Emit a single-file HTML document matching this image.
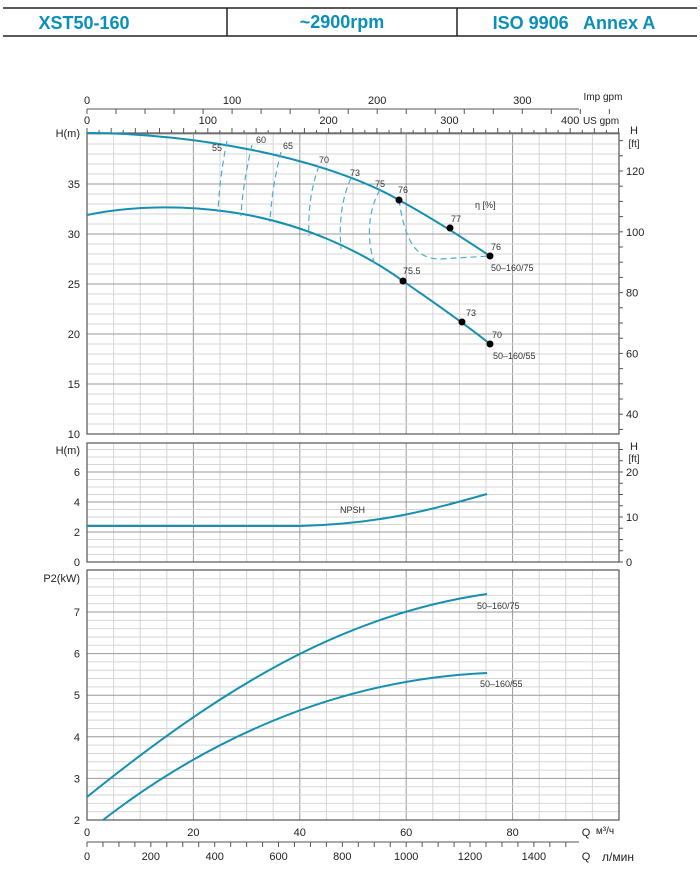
<!DOCTYPE html><html><head><meta charset="utf-8"><style>
body{margin:0;background:#fff;width:700px;height:877px;overflow:hidden;font-family:"Liberation Sans",sans-serif}
</style></head><body>
<svg id="s" width="700" height="877" xmlns="http://www.w3.org/2000/svg" font-family="Liberation Sans, DejaVu Sans, sans-serif">
<line x1="3" y1="8" x2="697" y2="8" stroke="#222" stroke-width="1.5"/>
<line x1="3" y1="36" x2="697" y2="36" stroke="#222" stroke-width="1.5"/>
<line x1="227" y1="8" x2="227" y2="36" stroke="#222" stroke-width="1.5"/>
<line x1="457" y1="8" x2="457" y2="36" stroke="#222" stroke-width="1.5"/>
<g fill="#0a8fb8" font-weight="bold" font-size="18" text-anchor="middle">
<text x="84" y="29">XST50-160</text><text x="342" y="28">~2900rpm</text><text x="574" y="29">ISO 9906&#160;&#160; Annex A</text></g>
<g id="grid"></g>
<g fill="none" stroke="#1590b0" stroke-width="2">
<path d="M87,133 C200,133 330,160 399,200 C430,217 460,236 490,256"/>
<path d="M87,215 C130,206 180,205 230,212 C300,222 360,250 403,281 C430,300 460,320 490,344"/>
<path d="M87,526 L300,526 C380,524 430,510 487,494"/>
<path d="M87,797 C220,690 340,615 487,594"/>
<path d="M103,820 C200,745 330,680 487,673"/>
</g>
<g fill="none" stroke="#4aaed0" stroke-width="1.2" stroke-dasharray="6,4">
<path d="M227,141 C222,165 219,190 218,212"/>
<path d="M252,145 C246,170 242,195 241,216"/>
<path d="M281,152 C275,175 271,200 270,222"/>
<path d="M319,166 C310,190 308,215 309,236"/>
<path d="M351,178 C341,200 339,225 341,249"/>
<path d="M380,190 C368,210 366,240 375,265"/>
<path d="M399,200 C405,240 415,259 440,259 L490,256"/>
</g>
<g fill="#000"><circle cx="399" cy="200" r="3.5"/><circle cx="450" cy="228" r="3.5"/><circle cx="490" cy="256" r="3.5"/><circle cx="403" cy="281" r="3.5"/><circle cx="462" cy="322" r="3.5"/><circle cx="490" cy="344" r="3.5"/></g>
<g font-size="9" fill="#333">
<text x="212" y="151">55</text><text x="256" y="143">60</text><text x="283" y="149">65</text><text x="319" y="163">70</text><text x="350" y="176">73</text><text x="375" y="187">75</text><text x="398" y="193">76</text>
<text x="475" y="208">η [%]</text><text x="451" y="222">77</text><text x="491" y="250">76</text><text x="491" y="271">50–160/75</text>
<text x="403" y="274">75.5</text><text x="466" y="316">73</text><text x="492" y="338">70</text><text x="493" y="359">50–160/55</text>
<text x="340" y="513">NPSH</text><text x="477" y="609">50–160/75</text><text x="480" y="687">50–160/55</text>
</g>
</svg>
<script>
var g=document.getElementById('grid'),h='';
function L(x1,y1,x2,y2,c,w){h+='<line x1="'+x1+'" y1="'+y1+'" x2="'+x2+'" y2="'+y2+'" stroke="'+c+'" stroke-width="'+(w||1)+'"/>';}
function T(x,y,t,a,s){h+='<text x="'+x+'" y="'+y+'" font-size="'+(s||11)+'" fill="#222" text-anchor="'+(a||'middle')+'">'+t+'</text>';}
var X0=87,X1=619,k=5.32;
var panels=[[133,434],[443,562],[570,820]];
panels.forEach(function(p){for(var q=0;q<=100;q+=5){var x=X0+q*k;if(x>X1)break;L(x,p[0],x,p[1],q%20==0?'#999':'#d6d6d6');}});
for(var m=10;m<=40;m++){var y=434-(m-10)*10;L(X0,y,X1,y,m%5==0?'#999':'#d6d6d6');if(m%5==0&&m<40)T(80,y+4,m,'end');}
T(80,137,'H(m)','end');
for(var m=0;m<=8;m+=0.5){var y=562-m*15;if(y<443)break;L(X0,y,X1,y,m%2==0?'#999':'#d6d6d6');if(m%2==0&&m<8)T(80,y+4,m,'end');}
T(80,454,'H(m)','end');
for(var p=2;p<=8;p+=0.2){var y=820-(p-2)*41.6;if(y<570.5)break;var d=Math.abs(p-Math.round(p))<0.01;L(X0,y,X1,y,d?'#999':'#d6d6d6');if(d)T(80,y+4,Math.round(p),'end');}
T(80,582,'P2(kW)','end');
panels.forEach(function(p){h+='<rect x="'+X0+'" y="'+p[0]+'" width="'+(X1-X0)+'" height="'+(p[1]-p[0])+'" fill="none" stroke="#555" stroke-width="1.2"/>';});
for(var f=35;f<=130;f+=5){var y=171+(120-f)*3.04;if(y<134||y>434)continue;L(X1,y,X1+4,y,'#555');if(f%20==0)T(626,y+4,f,'start');}
T(634,134,'H');T(634,147,'[ft]',null,10);
for(var f=0;f<=25;f+=2.5){var y=562-f*4.5;if(y<443)continue;L(X1,y,X1+4,y,'#555');if(f%10==0)T(626,y+4,f,'start');}
T(634,450,'H');T(634,462,'[ft]',null,10);
L(X0,109,X1-40,109,'#555');
for(var i=0;i<=360;i+=20){var x=X0+i*1.451;L(x,109,x,114,'#555');if(i%100==0)T(x,104,i);}
T(603,100,'Imp gpm',null,10);
for(var i=0;i<=440;i+=10){var x=X0+i*1.208;if(x>X1)break;L(x,i%20==0?128:130,x,133,'#555');if(i%100==0&&i<=400)T(x,124,i);}
T(601,124,'US gpm',null,10);
for(var q=0;q<=80;q+=20)T(X0+q*k,836,q);
T(586,836,'Q');T(605,834,'м³/ч',null,10);
L(X0,842,X1-40,842,'#555');
for(var l=0;l<=1600;l+=50){var x=X0+l*k*0.06;if(x>X1-40)break;L(x,842,x,847,'#555');if(l%200==0&&l<=1400)T(x,860,l);}
T(586,860,'Q');T(618,861,'л/мин',null,12);
g.innerHTML=h;
</script>
</body></html>
